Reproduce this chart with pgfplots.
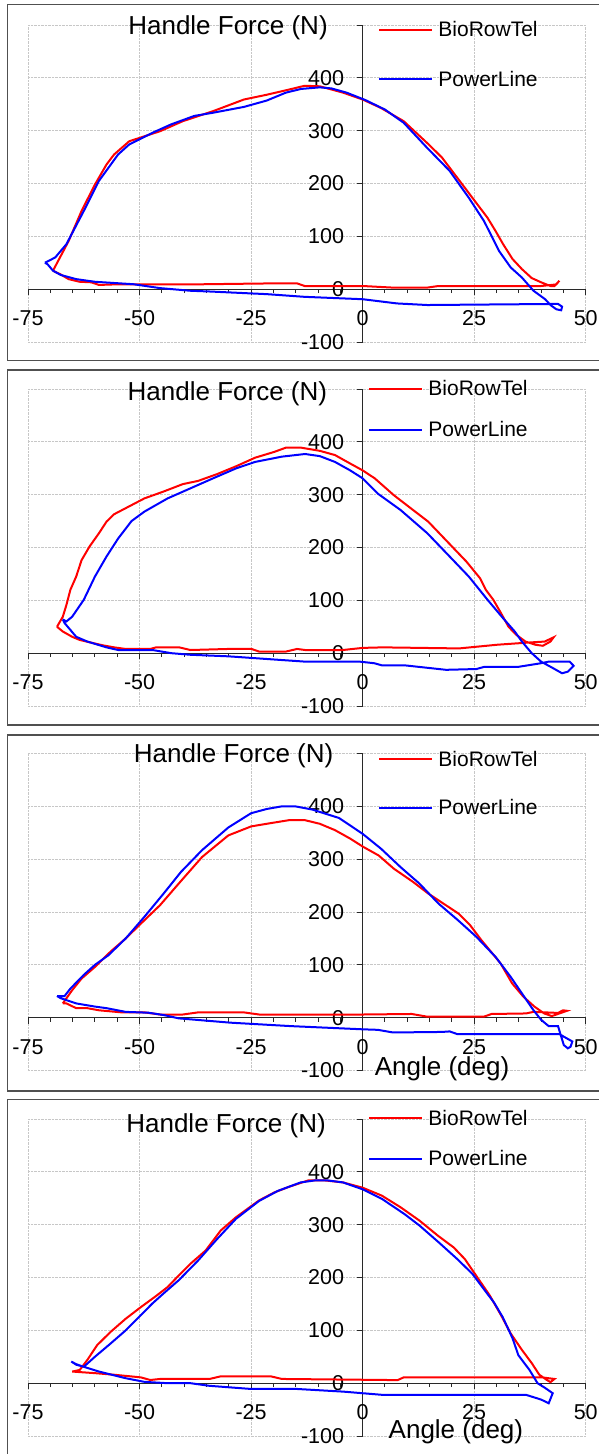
\documentclass[border=0pt]{standalone}
\usepackage{fontspec}
\setmainfont{Liberation Sans}
\usepackage{pgfplots}
\pgfplotsset{compat=1.18}
\definecolor{pred}{RGB}{255,0,0}
\definecolor{pblue}{RGB}{0,0,255}
\definecolor{axgray}{RGB}{40,40,40}
\definecolor{boxgray}{RGB}{80,80,80}
\pgfplotsset{
  panel/.style={
    anchor=south west,
    scale only axis, width=557.7pt, height=317pt,
    xmin=-75, xmax=50, ymin=-100, ymax=500,
    enlargelimits=false, clip=false,
    axis lines=middle,
    axis line style={-, axgray, line width=1pt},
    xtick={-75,-50,-25,0,25,50},
    xticklabels={-75,-50,-25,0,25,50},
    ytick={-100,0,100,200,300,400,500},
    yticklabels={-100,0,100,200,300,400,},
    minor x tick num=4,
    tick align=outside,
    major tick length=6pt, minor tick length=4pt,
    tick style={axgray, line width=1pt},
    grid=major,
    major grid style={densely dotted, black!22, line width=0.9pt},
    hide obscured x ticks=false, hide obscured y ticks=false,
    tick label style={font=\fontsize{21.5}{21.5}\selectfont},
    xticklabel style={anchor=north, yshift=-12pt},
    yticklabel style={anchor=east, xshift=-9pt},
    legend style={draw=none, fill=none, inner sep=0pt, row sep=20pt,
      font=\fontsize{21}{21}\selectfont,
      /tikz/every odd column/.append style={column sep=3pt}},
    legend image code/.code={\draw[#1] (0pt,0pt) -- (53pt,0pt);},
    legend cell align=left,
  },
  red line/.style={pred, line width=2pt},
  blue line/.style={pblue, line width=2pt},
}
\newcommand{\titlefont}{\fontsize{26}{26}\selectfont}
\begin{document}
\begin{tikzpicture}
\path[use as bounding box] (0pt,0pt) rectangle (598pt,-1454pt);
% panel frames
\draw[boxgray, line width=1.2pt] (620pt,-4.5pt) -- (7.5pt,-4.5pt) -- (7.5pt,-360.7pt) -- (620pt,-360.7pt);
\draw[boxgray, line width=1.2pt] (620pt,-370pt) -- (7.5pt,-370pt) -- (7.5pt,-725pt) -- (620pt,-725pt);
\draw[boxgray, line width=1.2pt] (620pt,-735pt) -- (7.5pt,-735pt) -- (7.5pt,-1091pt) -- (620pt,-1091pt);
\draw[boxgray, line width=1.2pt] (620pt,-1099.5pt) -- (7.5pt,-1099.5pt) -- (7.5pt,-1480pt);

% ---------------- Panel 1 ----------------
\begin{axis}[panel, at={(28pt,-342pt)},
  legend style={at={(0.628,1.019)}, anchor=north west, row sep=29pt}]
\addplot[red line] coordinates {
(-69.4,35) (-65.9,91) (-63,148) (-60,198) (-57.4,236) (-55.7,255) (-52.3,280)
(-45.4,299) (-40.3,318) (-33.5,337) (-26.6,359) (-21.5,368) (-16.4,378) (-13,385)
(-9.6,384) (-4.4,372) (0,359) (4.1,343) (9.2,318) (14.8,274) (17.8,249) (21.2,211)
(24.6,173) (28,135) (29.8,110) (31.5,85) (33.6,57) (35.7,38) (37.9,21) (40,13)
(42.1,6) (43,6) (44.1,16) (43.4,9) (40,6) (17,6) (14.5,3) (6.7,3) (0,6) (-13,6)
(-14.7,11) (-19.8,11) (-38.6,9) (-55.7,9) (-59.1,8) (-60.8,13) (-63.4,14)
(-65.9,19) (-67.7,28) (-69.4,35)};
\addlegendentry{BioRowTel}
\addplot[blue line] coordinates {
(-71.2,50) (-68.9,60) (-66.4,85) (-62.5,148) (-59.1,205) (-54.8,255) (-52.3,274)
(-47.1,296) (-42.9,312) (-37.7,328) (-33.5,334) (-26.6,345) (-21.5,357) (-17.2,372)
(-13.8,379) (-9.6,382) (-7,380) (-3.6,372) (0.6,358) (5,340) (9.2,315) (14.4,268)
(19.5,224) (23.8,173) (27.2,129) (30.6,72) (33.2,41) (35.7,22) (38.3,-3) (40.9,-19)
(42.1,-30) (43.4,-38) (44.5,-40) (44.7,-33) (43.8,-28) (42.6,-28) (14.5,-30)
(7.7,-27) (0,-19) (-13,-14.5) (-21.5,-9.4) (-34.3,-4.4) (-38.6,-3) (-45.4,2)
(-51.4,9.4) (-57.4,12.6) (-60,14) (-64.2,19) (-67.7,27) (-69.4,35) (-70.6,47)
(-71.2,50)};
\addlegendentry{PowerLine}
\node[anchor=base west, inner sep=0pt, font=\titlefont] at (axis cs:-52.56,482) {Handle Force (N)};
\end{axis}

% ---------------- Panel 2 ----------------
\begin{axis}[panel, at={(28pt,-706pt)},
  legend style={at={(0.610,1.033)}, anchor=north west, row sep=20pt}]
\addplot[red line] coordinates {
(-68.5,50) (-67.2,69) (-66.4,91) (-65.5,120) (-64.2,145) (-63,176) (-61.2,202)
(-59.1,227) (-57.4,249) (-55.7,263) (-52.3,278) (-48.9,293) (-44.6,306) (-40.3,320)
(-36.9,326) (-32.6,339) (-28.3,354) (-24.1,370) (-19.8,381) (-17.2,389) (-13.8,389)
(-9.6,383) (-6.2,375) (-2.8,359) (0,346) (2.7,331) (7,299) (11.3,271) (14.7,249)
(19,211) (23.3,173) (26.3,142) (27.6,120) (29.3,101) (31,76) (32.7,50) (34.4,35)
(36.5,22) (38.7,16) (40.4,14) (42.1,22) (42.8,30) (40.8,22) (37,20) (30.2,16)
(21.6,9) (4.5,11) (0,10) (-4.4,6) (-12.9,6) (-14.7,8) (-17.2,3) (-23.2,3) (-24.9,8)
(-30,8) (-38.6,6) (-41.1,11) (-46.3,11) (-47.6,8) (-53.1,8) (-55.7,11) (-58.3,15)
(-63.4,25) (-65.1,31) (-67.2,41) (-68.5,50)};
\addlegendentry{BioRowTel}
\addplot[blue line] coordinates {
(-67.2,64) (-66.4,60) (-65.1,69) (-62.5,101) (-60,145) (-57.4,183) (-54.8,217)
(-51.8,250) (-48.9,268) (-43.7,293) (-38.6,312) (-33.5,331) (-28.3,350) (-24.1,362)
(-18.1,372) (-12.9,377) (-9.6,373) (-6.2,362) (-2.8,346) (0,331) (3.4,302) (8.5,271)
(14.5,227) (19.5,183) (23.8,145) (28,101) (31.5,66) (34.1,41) (35.7,22) (37.9,0)
(40,-16) (42.6,-28) (44.7,-38) (46,-35) (47.3,-24) (46.4,-16) (41.7,-16) (40,-19)
(34.8,-26) (27.2,-26) (25.5,-30) (18.7,-31.5) (9.4,-23) (4.3,-23) (2.6,-19)
(-0.7,-16) (-12.9,-16) (-21.5,-11) (-30,-6) (-38.6,-3) (-42.9,0) (-47.1,6)
(-54.8,6) (-57.4,11) (-61.7,22) (-64.2,31) (-65.5,44) (-66.8,57) (-67.2,64)};
\addlegendentry{PowerLine}
\node[anchor=base west, inner sep=0pt, font=\titlefont] at (axis cs:-52.7,478) {Handle Force (N)};
\end{axis}

% ---------------- Panel 3 ----------------
\begin{axis}[panel, at={(28pt,-1070.5pt)},
  legend style={at={(0.628,1.015)}, anchor=north west, row sep=28pt}]
\addplot[red line] coordinates {
(-67.2,27) (-65.1,52) (-63,74) (-60,96) (-56.5,125) (-53.1,150) (-49.7,178)
(-45.4,213) (-41.2,254) (-36,304) (-30.1,345) (-25,362) (-21.5,367) (-16.4,374)
(-13,374) (-9.6,367) (-6.2,355) (-2.8,339) (0,324) (3.6,307) (7,282) (11.3,257)
(14.7,235) (18.1,216) (21.5,197) (24.1,175) (26.6,147) (30.9,103) (33.5,65) (36,40)
(38.5,21) (40.7,8) (42.4,3) (44.1,8) (45.8,13) (44.9,14) (43.8,9) (38.3,11)
(36.6,8) (28.9,7) (27.2,2) (14.4,2) (11,7) (0,6) (-23.2,6) (-26.6,10) (-36.9,10)
(-40.3,6) (-45.4,6) (-48.9,10) (-53.9,10) (-59.1,14) (-61.7,18) (-64.2,18)
(-66.4,27) (-67.2,27)};
\addlegendentry{BioRowTel}
\addplot[blue line] coordinates {
(-68.5,41) (-66.8,41) (-65.5,55) (-62.5,81) (-60,100) (-57,118) (-53.1,150)
(-48.9,191) (-44.6,235) (-40.7,276) (-36,317) (-30.1,360) (-25,387) (-21.5,395)
(-18.1,400) (-15.1,400) (-11.3,394) (-5.3,378) (0,348) (4.1,320) (8.5,285)
(12.7,254) (17,216) (21.3,185) (25.5,153) (29.8,115) (33.2,77) (35.7,46) (38.3,14)
(40,-4) (41.7,-16) (43.8,-16) (44.4,-33) (45.1,-52) (46,-58) (46.6,-55) (47,-45)
(45.1,-36) (44.1,-31) (21.2,-31) (19.5,-26) (17.8,-27) (6.8,-28) (3.4,-23) (0,-22)
(-16,-16) (-29.7,-9.4) (-41.2,-1.3) (-44.6,5) (-48,9.4) (-53.1,11) (-57.4,18)
(-60,21) (-64.2,27) (-67.7,37) (-68.5,41)};
\addlegendentry{PowerLine}
\node[anchor=base west, inner sep=0pt, font=\titlefont] at (axis cs:-51.3,482.7) {Handle Force (N)};
\node[anchor=base west, inner sep=0pt, font=\titlefont] at (axis cs:2.7,-108.5) {Angle (deg)};
\end{axis}

% ---------------- Panel 4 ----------------
\begin{axis}[panel, at={(28pt,-1436pt)},
  legend style={at={(0.610,1.036)}, anchor=north west, row sep=20pt}]
\addplot[red line] coordinates {
(-65.1,22) (-63.4,25) (-61.7,44) (-59.5,72) (-56.5,97) (-53.1,122) (-49.7,144)
(-46.3,165) (-43.7,182) (-41.2,204) (-38.6,226) (-35.2,251) (-31.8,289) (-28.4,314)
(-23.2,346) (-19.8,361) (-16.4,372) (-12.1,384) (-8.7,384) (-4.4,380) (0,370)
(4.3,355) (8.5,333) (12.7,308) (16.9,279) (20.4,257) (22.9,235) (25.9,198)
(28.5,166) (31,129) (33.2,94) (35.7,63) (37.9,38) (39.6,16) (41.3,6) (42.1,2)
(43,8) (40.2,11) (9.2,11) (7.9,6) (5.8,6) (-18.1,8) (-20.6,13) (-31.8,13) (-34.3,8)
(-45.4,8) (-47.6,6) (-49.7,11) (-55.7,16) (-60,19) (-65.1,22)};
\addlegendentry{BioRowTel}
\addplot[blue line] coordinates {
(-65.3,41) (-64.2,35) (-62.5,31) (-60,50) (-56.5,75) (-53.1,100) (-47.1,151)
(-44.6,170) (-41.2,195) (-36.9,232) (-32.6,273) (-28.4,311) (-23.2,345) (-19,364)
(-13.9,380) (-10.5,384) (-8,384) (-4.4,380) (0,367) (4.3,349) (9.4,320) (12.8,298)
(17,267) (21.2,235) (24.6,207) (27,180) (29.5,152) (31.4,125) (32.5,105) (33.6,85)
(34.9,53) (37.4,25) (39.2,0) (40.9,-9) (42.6,-19) (41.7,-38) (40,-31) (36.6,-22)
(4.3,-22) (0,-19) (-4.3,-16) (-14.6,-11) (-24.9,-11) (-34.3,-5) (-38.6,0) (-43.7,0)
(-48.9,2.5) (-53.1,9.4) (-59.1,22) (-62.5,31) (-64.2,36) (-65.3,41)};
\addlegendentry{PowerLine}
\node[anchor=base west, inner sep=0pt, font=\titlefont] at (axis cs:-53,474) {Handle Force (N)};
\node[anchor=base west, inner sep=0pt, font=\titlefont] at (axis cs:5.8,-104) {Angle (deg)};
\end{axis}
\end{tikzpicture}
\end{document}
